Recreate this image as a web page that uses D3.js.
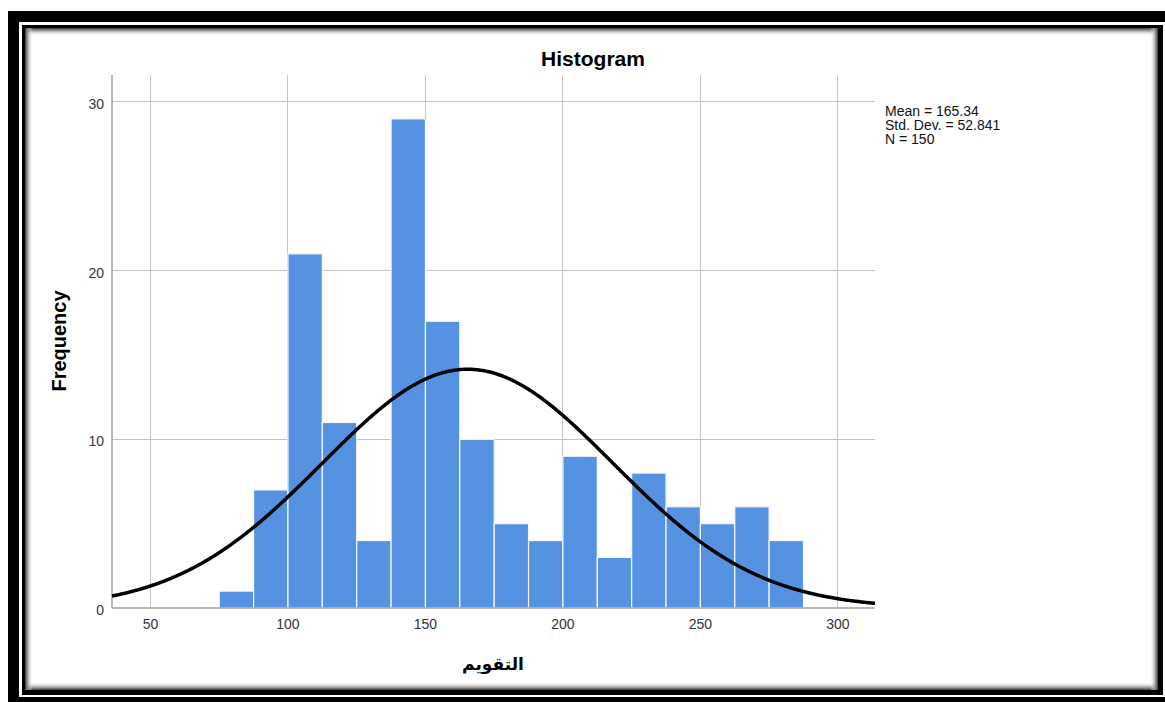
<!DOCTYPE html>
<html>
<head>
<meta charset="utf-8">
<script src="https://cdn.jsdelivr.net/npm/d3@7"></script>
<style>
  html, body { margin: 0; padding: 0; background: #fff; overflow: hidden; }
  svg { display: block; }
  text { font-family: "Liberation Sans", Arial, "DejaVu Sans", sans-serif; }
</style>
</head>
<body>
<svg id="chart" width="1165" height="702"></svg>
<script>
// ---- Data ----
const binStart = 75;
const binWidth = 12.5;
const counts = [1, 7, 21, 11, 4, 29, 17, 10, 5, 4, 9, 3, 8, 6, 5, 6, 4];
const xTicks = [50, 100, 150, 200, 250, 300];
const yTicks = [0, 10, 20, 30];
const statLines = ["Mean = 165.34", "Std. Dev. = 52.841", "N = 150"];
const meanVal = 165.34;
const sdVal = 52.841;
const nVal = 150;
const titleText = "Histogram";
const xLabel = "التقويم";
const yLabel = "Frequency";

(function () {
const bins = counts.map((c, i) => ({ x0: binStart + i * binWidth, x1: binStart + (i + 1) * binWidth, count: c }));

const svg = d3.select("#chart");

// ---- Frame ----
const defs = svg.append("defs");
function grad(id, x1, y1, x2, y2) {
  const gr = defs.append("linearGradient").attr("id", id)
    .attr("x1", x1).attr("y1", y1).attr("x2", x2).attr("y2", y2);
  gr.append("stop").attr("offset", "0%").attr("stop-color", "#3a3a3a").attr("stop-opacity", 1);
  gr.append("stop").attr("offset", "40%").attr("stop-color", "#9a9a9a").attr("stop-opacity", 0.8);
  gr.append("stop").attr("offset", "100%").attr("stop-color", "#ffffff").attr("stop-opacity", 0);
}
grad("gTop", 0, 0, 0, 1);
grad("gBot", 0, 1, 0, 0);
grad("gLeft", 0, 0, 1, 0);
grad("gRight", 1, 0, 0, 0);

svg.append("rect").attr("x", 8).attr("y", 11).attr("width", 1300).attr("height", 800).attr("fill", "#000");
svg.append("rect").attr("x", 19).attr("y", 22).attr("width", 1146).attr("height", 675).attr("fill", "#fff");
svg.append("rect").attr("x", 22).attr("y", 25).attr("width", 1141).attr("height", 670).attr("fill", "#000");
const ix0 = 25, iy0 = 28, ix1 = 1158, iy1 = 690, sh = 8;
svg.append("rect").attr("x", ix0).attr("y", iy0).attr("width", ix1 - ix0).attr("height", iy1 - iy0).attr("fill", "#fff");
svg.append("rect").attr("x", ix0).attr("y", iy0).attr("width", ix1 - ix0).attr("height", sh).attr("fill", "url(#gTop)");
svg.append("rect").attr("x", ix0).attr("y", iy1 - sh).attr("width", ix1 - ix0).attr("height", sh).attr("fill", "url(#gBot)");
svg.append("rect").attr("x", ix0).attr("y", iy0).attr("width", sh).attr("height", iy1 - iy0).attr("fill", "url(#gLeft)");
svg.append("rect").attr("x", ix1 - sh).attr("y", iy0).attr("width", sh).attr("height", iy1 - iy0).attr("fill", "url(#gRight)");

// ---- Scales ----
const pL = 112, pR = 875, pT = 75, pB = 608;
const x = d3.scaleLinear().domain([36, 313.5]).range([pL, pR]);
const y = d3.scaleLinear().domain([0, 31.6]).range([pB, pT]);

const g = svg.append("g");

// gridlines
g.selectAll("line.vg").data(xTicks).enter().append("line")
  .attr("x1", d => x(d)).attr("x2", d => x(d))
  .attr("y1", pT).attr("y2", pB)
  .attr("stroke", "#c4c4c4").attr("stroke-width", 1)
  .attr("shape-rendering", "crispEdges");
g.selectAll("line.hg").data(yTicks.filter(d => d > 0)).enter().append("line")
  .attr("x1", pL).attr("x2", pR)
  .attr("y1", d => y(d)).attr("y2", d => y(d))
  .attr("stroke", "#c4c4c4").attr("stroke-width", 1)
  .attr("shape-rendering", "crispEdges");

// bars
g.selectAll("rect.bar").data(bins).enter().append("rect")
  .attr("x", d => x(d.x0))
  .attr("width", d => x(d.x1) - x(d.x0))
  .attr("y", d => y(d.count))
  .attr("height", d => y(0) - y(d.count))
  .attr("fill", "#5593e2")
  .attr("stroke", "#f4f8fd").attr("stroke-width", 1.2);

// axis lines
g.append("line").attr("x1", pL).attr("x2", pL).attr("y1", pT).attr("y2", pB)
  .attr("stroke", "#a0a0a0").attr("stroke-width", 1.5);
g.append("line").attr("x1", pL).attr("x2", pR).attr("y1", pB).attr("y2", pB)
  .attr("stroke", "#a0a0a0").attr("stroke-width", 1.5);

// normal curve from the displayed statistics
const curvePts = d3.range(x.domain()[0], x.domain()[1] + 0.01, 0.5).map(v => {
  const z = (v - meanVal) / sdVal;
  return [v, nVal * binWidth * Math.exp(-0.5 * z * z) / (sdVal * Math.sqrt(2 * Math.PI))];
});
g.append("path").datum(curvePts)
  .attr("d", d3.line().x(d => x(d[0])).y(d => y(d[1])).curve(d3.curveBasis))
  .attr("fill", "none").attr("stroke", "#000").attr("stroke-width", 3.5);

// tick labels
g.selectAll("text.xt").data(xTicks).enter().append("text")
  .attr("x", d => x(d)).attr("y", 629)
  .attr("text-anchor", "middle").attr("font-size", 14).attr("fill", "#333")
  .text(d => d);
g.selectAll("text.yt").data(yTicks).enter().append("text")
  .attr("x", 104).attr("y", d => y(d) + 7)
  .attr("text-anchor", "end").attr("font-size", 14).attr("fill", "#333")
  .text(d => d);

// title and axis labels
svg.append("text").attr("x", 593).attr("y", 66).attr("text-anchor", "middle")
  .attr("font-size", 21).attr("font-weight", "bold").attr("fill", "#000").text(titleText);
svg.append("text").attr("transform", "translate(66,341) rotate(-90)")
  .attr("text-anchor", "middle").attr("font-size", 20).attr("font-weight", "bold").attr("fill", "#000")
  .text(yLabel);
svg.append("text").attr("x", 493).attr("y", 670).attr("text-anchor", "middle")
  .attr("font-size", 17).attr("font-weight", "bold").attr("fill", "#000")
  .attr("style", "font-family: 'DejaVu Sans', 'Noto Sans', sans-serif")
  .text(xLabel);

// stats
svg.selectAll("text.stat").data(statLines).enter().append("text")
  .attr("x", 885).attr("y", (d, i) => 116 + i * 14)
  .attr("font-size", 14).attr("fill", "#111")
  .text(d => d);
})();
</script>
</body>
</html>
